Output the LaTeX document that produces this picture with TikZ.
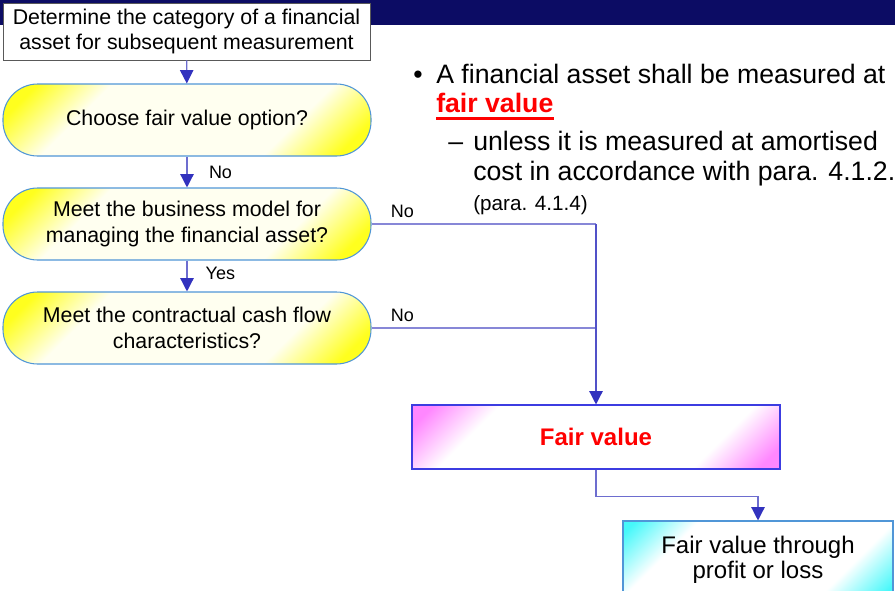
\documentclass[tikz,border=0pt]{standalone}
\usepackage{fontspec}
\setmainfont{Liberation Sans}
\usetikzlibrary{shapes,arrows.meta,positioning}

\definecolor{bandnavy}{RGB}{12,12,100}
\definecolor{linkblue}{RGB}{135,135,215}
\definecolor{tipblue}{RGB}{50,50,190}
\definecolor{edgeblue}{RGB}{80,150,215}
\definecolor{fvblue}{RGB}{60,60,225}
\definecolor{sunyellow}{RGB}{255,255,30}
\definecolor{pinkish}{RGB}{255,135,255}
\definecolor{aqua}{RGB}{70,248,250}

\pgfdeclareverticalshading{yelshade}{100bp}{color(0bp)=(sunyellow); color(20bp)=(sunyellow); color(32bp)=(yellow!6); color(68bp)=(yellow!6); color(80bp)=(sunyellow); color(100bp)=(sunyellow)}
\pgfdeclareverticalshading{pinkshade}{100bp}{color(0bp)=(pinkish); color(18bp)=(pinkish); color(29bp)=(white); color(71bp)=(white); color(82bp)=(pinkish); color(100bp)=(pinkish)}
\pgfdeclareverticalshading{aquashade}{100bp}{color(0bp)=(aqua); color(17bp)=(aqua); color(30bp)=(white); color(70bp)=(white); color(83bp)=(aqua); color(100bp)=(aqua)}

\begin{document}
\begin{tikzpicture}[x=0.75pt, y=-0.75pt, align=center]
    \tikzset{
        startbox/.style =   { rectangle
                            , draw=gray!70!black
                            , fill=white
                            , minimum width=275pt
                            , minimum height=43pt
                            , font=\fontsize{16}{18.75}\selectfont
        }
        , ask/.style    =   { rectangle
                            , rounded corners=26pt
                            , draw=edgeblue
                            , line width=0.8pt
                            , shade
                            , shading=yelshade
                            , shading angle=45
                            , minimum width=276pt
                            , minimum height=54pt
                            , font=\fontsize{16}{19.5}\selectfont
        }
        , fvbox/.style  =   { rectangle
                            , draw=fvblue
                            , line width=0.8pt
                            , shade
                            , shading=pinkshade
                            , shading angle=45
                            , minimum width=276pt
                            , minimum height=48pt
                            , text=red
                            , font=\fontsize{18}{20}\selectfont\bfseries
        }
        , outbox/.style =   { rectangle
                            , draw=edgeblue
                            , line width=0.8pt
                            , shade
                            , shading=aquashade
                            , shading angle=45
                            , minimum width=202.5pt
                            , minimum height=58.5pt
                            , font=\fontsize{18}{19}\selectfont
        }
        , lbl/.style    =   { inner sep=0pt
                            , font=\fontsize{13.5}{15}\selectfont
        }
        , txt/.style    =   { inner sep=0pt
                            , anchor=base west
                            , font=\fontsize{20}{22}\selectfont
        }
        , line/.style   =   { draw=linkblue
                            , line width=1pt
        }
        , arrow/.style  =   { draw=linkblue!70!tipblue
                            , line width=1pt
                            , -{Triangle[width=10pt, length=10pt, color=tipblue]}
        }
    }
    \clip (0,0) rectangle (895,590);
    \fill[bandnavy] (0,0) rectangle (895,25);

    \node(0)[startbox] at (186.5,31.5) {Determine the category of a financial\\asset for subsequent measurement};
    \node(1)[ask] at (187,120) {Choose fair value option?};
    \node(2)[ask] at (187,224) {Meet the business model for\\managing the financial asset?};
    \node(3)[ask] at (187,328) {Meet the contractual cash flow\\characteristics?};
    \node(4)[fvbox] at (596,437) {Fair value};
    \node(5)[outbox] at (758,560) {Fair value through\\profit or loss};

    \node(t0)[txt] at (413,83) {\textbullet};
    \node(t1)[txt] at (436,83) {A financial asset shall be measured at};
    \node(t2)[txt, text=red, font=\fontsize{20}{22}\selectfont\bfseries] at (436,112) {fair value};
    \node(t3)[txt] at (448,150) {--};
    \node(t4)[txt] at (473,150) {unless it is measured at amortised};
    \node(t5)[txt] at (473,180) {cost in accordance with para. 4.1.2.};
    \node(t6)[txt, font=\fontsize{15.5}{17}\selectfont] at (473,210) {(para. 4.1.4)};
    \draw[red, line width=2pt] ([yshift=-5pt]t2.base west) -- ([yshift=-5pt]t2.base east);

    \draw[arrow] (0) -- (1);
    \draw[arrow] (1) -- node[lbl, anchor=west, xshift=16pt] {No} (2);
    \draw[arrow] (2) -- node[lbl, anchor=west, xshift=13.5pt, yshift=2pt] {Yes} (3);
    \draw[line]  (2) -- node[lbl, pos=0, anchor=south west, xshift=14pt, yshift=4.5pt] {No} (2 -| 4);
    \draw[line]  (3) -- node[lbl, pos=0, anchor=south west, xshift=14pt, yshift=4.5pt] {No} (3 -| 4);
    \draw[arrow, draw=tipblue!85!white] (2 -| 4) -- (4);
    \draw[arrow] (4.south) -- ++(0,27) -| (5.north);
\end{tikzpicture}
\end{document}
